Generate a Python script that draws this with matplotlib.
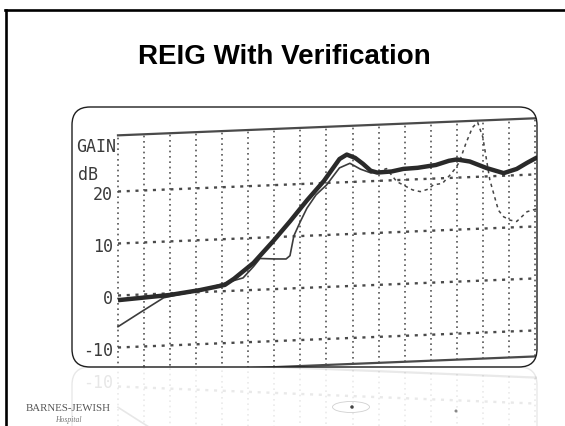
import numpy as np
import matplotlib
matplotlib.use("Agg")
import matplotlib.pyplot as plt
from matplotlib.patches import FancyBboxPatch, Ellipse
from matplotlib.transforms import Affine2D
from matplotlib.lines import Line2D

# ---------------- data ----------------
title = "REIG With Verification"
y_ticks = [20, 10, 0, -10]
y_tick_labels = ["20", "10", "0", "-10"]
axis_label_top = "GAIN"
axis_label_unit = "dB"
grid_x = list(range(17))          # frequency grid columns
top_frame_db = 30.8
bottom_frame_db = -15.0

# thick curve (prescribed target)
target_x = [0.0, 2.0, 3.15, 4.1, 4.45, 5.2, 5.95, 6.6, 7.25, 7.9, 8.5, 8.78, 9.1,
            9.4, 9.7, 9.95, 10.5, 10.95, 11.5, 12.2, 12.7, 13.0, 13.5, 14.15,
            14.8, 15.3, 15.7, 16.1]
target_db = [-0.9, -0.3, 0.4, 1.2, 2.3, 5.2, 9.2, 12.9, 16.8, 20.4, 24.5, 25.3, 24.6,
             23.4, 22.0, 21.6, 21.7, 22.1, 22.2, 22.6, 23.3, 23.5, 23.0, 21.6,
             20.5, 21.2, 22.3, 23.3]

# thin curve (measured / verification)
measured_x = [0.0, 0.9, 1.75, 2.2, 3.15, 4.15, 4.8, 5.2, 5.45, 6.0, 6.45, 6.6, 6.75,
              7.0, 7.25, 7.6, 8.0, 8.5, 8.9, 9.3, 9.7, 10.0, 10.3, 10.5, 10.7, 10.95,
              11.3, 11.6, 11.9, 12.1, 12.45, 12.75, 12.95, 13.1, 13.35, 13.6, 13.8,
              14.0, 14.1, 14.27, 14.47, 14.6, 14.8, 15.05, 15.3, 15.7, 16.1]
measured_db = [-6.0, -3.3, -0.8, -0.4, 0.3, 1.6, 2.4, 4.5, 6.0, 5.8, 5.7, 6.3, 10.1,
               12.8, 15.3, 17.8, 19.6, 22.8, 23.6, 22.4, 21.6, 21.7, 22.3, 21.0, 19.7, 19.0,
               18.0, 17.6, 18.0, 18.8, 19.0, 20.6, 21.8, 23.0, 26.5, 29.5, 30.5,
               27.6, 24.5, 19.3, 15.7, 13.4, 12.1, 11.4, 11.1, 12.9, 13.4]
solid_until = 20   # index where the printed trace turns into dashes

# ---------------- figure ----------------
W, H = 565, 426
fig = plt.figure(figsize=(W / 100, H / 100), dpi=100)
fig.patch.set_facecolor("white")


def fx(px):
    return px / W


def fy(py):
    return 1 - py / H


# slide frame (top and left edges)
fig.add_artist(Line2D([fx(5), 1], [fy(9.5), fy(9.5)], color="black", lw=1.9,
                      transform=fig.transFigure))
fig.add_artist(Line2D([fx(6), fx(6)], [0, fy(9.5)], color="black", lw=1.9,
                      transform=fig.transFigure))

fig.text(fx(284), fy(64), title, ha="center", va="baseline", fontsize=20,
         fontweight="bold", family="Liberation Sans", color="black")

# rounded picture frame
box_args = dict(boxstyle="round,pad=0,rounding_size=0.18", transform=fig.dpi_scale_trans)
fig.add_artist(FancyBboxPatch((0.72, 0.59), 4.65, 2.60, facecolor="white",
                              edgecolor="none", zorder=-1, **box_args))
fig.add_artist(FancyBboxPatch((0.72, 0.59), 4.65, 2.60, facecolor="none",
                              edgecolor="#1e1e1e", lw=1.0, zorder=5, **box_args))
clip = FancyBboxPatch((0.72, 0.59), 4.65, 2.60, **box_args)
fig.add_artist(FancyBboxPatch((0.72, 0.59 - 2.60), 4.65, 2.60, facecolor="none",
                              edgecolor="#1e1e1e", lw=1.0, alpha=0.10, **box_args))

XLIM = (-1.765, 16.08)
TILT = np.arctan(0.205)


def draw_chart(ax, alpha, clip_patch=None):
    sk = Affine2D().skew(0, TILT) + ax.transData
    arts = []
    for gx in grid_x:
        arts += ax.plot([gx, gx], [bottom_frame_db, top_frame_db], transform=sk,
                        color="#555555", lw=1.2, ls=(0, (1, 2.2)), alpha=alpha)
    for yt in y_ticks:
        arts += ax.plot([0, 16.4], [yt, yt], transform=sk, color="#4a4a4a",
                        lw=1.7, ls=(0, (1.3, 2.4)), alpha=alpha)
    for fr in (top_frame_db, bottom_frame_db):
        arts += ax.plot([0, 16.4], [fr, fr], transform=sk, color="#4a4a4a",
                        lw=1.6, alpha=alpha)
    arts += ax.plot(measured_x[:solid_until + 1], measured_db[:solid_until + 1],
                    transform=sk, color="#3c3c3c", lw=1.2, alpha=alpha)
    arts += ax.plot(measured_x[solid_until:], measured_db[solid_until:],
                    transform=sk, color="#444444", lw=1.1, ls=(0, (2.2, 2.4)), alpha=alpha)
    arts += ax.plot(target_x, target_db, transform=sk, color="#2a2a2a", lw=3.2,
                    alpha=alpha, solid_capstyle="butt")
    if clip_patch is not None:
        for a in arts:
            a.set_clip_path(clip_patch)
    mono = dict(family="DejaVu Sans Mono", fontsize=12, color="#3a3a3a", alpha=alpha)
    lo, hi = sorted(ax.get_ylim())
    for yt, lab in zip(y_ticks, y_tick_labels):
        ypos = yt - 0.6
        if lo + 1.5 <= ypos <= hi - 1.5:
            ax.text(-0.2, ypos, lab, ha="right", va="center", **mono)
    return mono


ax = fig.add_axes([fx(72), fy(367), 465 / W, 260 / H])
ax.set_xlim(*XLIM)
ax.set_ylim(-13.75, 36.25)
ax.axis("off")
mono = draw_chart(ax, 1.0, clip)
ax.text(-1.6, 28.6, axis_label_top, ha="left", va="center", **mono)
ax.text(-1.55, 23.1, axis_label_unit, ha="left", va="center", **mono)

# faint reflection below the frame
axr = fig.add_axes([fx(72), 0, 465 / W, 59 / H])
axr.set_xlim(*XLIM)
axr.set_ylim(-2.4, -13.75)
axr.axis("off")
draw_chart(axr, 0.12)

# hospital logo
fig.text(fx(68), fy(408.5), "BARNES-JEWISH", ha="center", va="center",
         family="Liberation Serif", fontsize=7.8, color="#555555")
fig.text(fx(68), fy(419.5), "Hospital", ha="center", va="center",
         family="Liberation Serif", style="italic", fontsize=5.5, color="#777777")

# small reflection artefacts
fig.add_artist(Ellipse((3.51, (H - 407) / 100), 0.37, 0.11, transform=fig.dpi_scale_trans,
                       fill=False, edgecolor="#d0d0d0", lw=0.6))
fig.add_artist(Ellipse((3.52, (H - 407) / 100), 0.035, 0.035, transform=fig.dpi_scale_trans,
                       facecolor="#444444", edgecolor="none"))
fig.add_artist(Ellipse((4.56, (H - 411) / 100), 0.03, 0.03, transform=fig.dpi_scale_trans,
                       facecolor="#888888", edgecolor="none"))

fig.savefig("out.png", dpi=100)
